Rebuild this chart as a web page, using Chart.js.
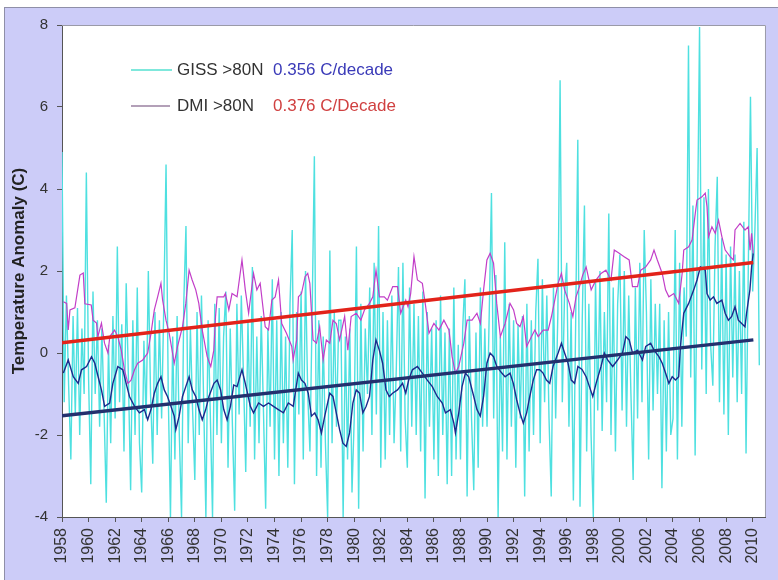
<!DOCTYPE html>
<html>
<head>
<meta charset="utf-8">
<script src="https://cdn.jsdelivr.net/npm/chart.js@4.4.0/dist/chart.umd.min.js"></script>
<style>
  html, body { margin: 0; padding: 0; background: #fff; }
  #wrap { width: 778px; height: 580px; }
</style>
</head>
<body>
<div id="wrap"><canvas id="chart" width="778" height="580"></canvas></div>
<script>
// tick labels
const xTickYears = [1958, 1960, 1962, 1964, 1966, 1968, 1970, 1972, 1974, 1976, 1978, 1980, 1982,
  1984, 1986, 1988, 1990, 1992, 1994, 1996, 1998, 2000, 2002, 2004, 2006, 2008, 2010];
const yTicks = [-4, -2, 0, 2, 4, 6, 8];

const gissStart = 1958;
const gissStep = 1 / 6;
const gissValues = [
  4.9, -1.2, 1.4, -0.8, -2.6, 0.9,      // 1958
  -1.5, 1.1, -2.0, 0.6, -1.0, 4.4,      // 1959
  -0.6, -3.2, 1.5, -1.0, 0.8, -1.8,     // 1960
  0.6, -1.4, -3.65, 0.2, -2.2, 0.9,     // 1961
  -1.6, 2.6, -1.2, 0.7, -2.4, 1.7,      // 1962
  -0.6, -3.35, 0.8, -2.0, 1.6, -2.2,    // 1963
  -3.4, 0.3, -1.6, 2.0, -1.0, -2.7,     // 1964
  1.0, -2.0, 0.8, -1.6, 1.2, 4.6,       // 1965
  -1.0, -4.0, 0.4, -2.6, 0.9, -2.0,     // 1966
  -4.0, 1.2, 3.1, -2.2, 0.6, -1.4,      // 1967
  -3.1, 1.0, -2.0, 1.4, -1.2, -4.0,     // 1968
  0.8, -1.5, -4.0, 1.2, -2.0, 1.1,      // 1969
  -2.2, 0.4, 1.5, -2.8, 0.6, -1.8,      // 1970
  -3.85, 1.2, -1.5, 1.4, -0.6, -2.9,    // 1971
  0.8, -1.8, 2.1, -2.6, 0.4, -2.2,      // 1972
  0.9, -1.4, -3.8, 0.6, -1.8, 1.8,      // 1973
  -2.6, 0.8, -3.0, 1.0, -2.2, 0.4,      // 1974
  -2.8, 1.2, 3.0, -3.2, 1.0, -1.5,      // 1975
  1.5, -2.6, 2.0, -1.0, -2.4, 1.0,      // 1976
  4.8, -3.0, 0.8, -2.8, 0.4, -2.2,      // 1977
  -4.0, 2.5, -2.2, 1.0, -1.8, 0.8,      // 1978
  0.8, -4.0, 0.4, -2.6, 0.6, -3.4,      // 1979
  -1.6, 2.6, -3.8, 1.2, -2.4, 0.6,      // 1980
  -1.0, 1.6, -2.0, 2.2, -1.5, 3.1,      // 1981
  -2.8, 1.0, -2.6, 0.8, -2.0, 1.4,      // 1982
  -2.2, -0.4, 2.1, -2.4, 2.2, -1.6,     // 1983
  -2.8, 1.6, -1.8, 1.2, -2.0, 0.9,      // 1984
  -2.4, 1.5, -3.55, 1.0, -1.8, 0.6,     // 1985
  -2.6, 0.8, -3.0, 1.4, -2.0, 0.5,      // 1986
  -3.2, 0.6, -3.0, 1.6, -2.6, 0.2,      // 1987
  -2.6, 0.6, 1.8, -3.5, 0.9, -1.6,      // 1988
  -3.35, 0.5, -2.8, 1.6, -1.8, 0.6,     // 1989
  -1.8, 1.0, 3.9, -1.6, 1.9, -4.0,      // 1990
  0.4, -2.4, 2.7, -2.6, 1.2, -1.8,      // 1991
  0.8, -2.8, 0.7, -1.6, 0.9, -3.5,      // 1992
  1.2, -2.4, 0.8, -2.0, 1.0, 2.3,       // 1993
  -2.2, 1.8, -1.2, 1.4, -1.6, -3.5,     // 1994
  1.6, -1.6, 1.0, 6.65, -1.2, 1.4,      // 1995
  2.2, -1.8, 1.0, -3.6, 0.6, 5.2,       // 1996
  -3.75, 0.8, 3.6, -2.4, 1.2, -2.0,     // 1997
  -4.0, 1.8, -1.4, 2.0, -1.9, 1.0,      // 1998
  -1.2, 3.4, -2.0, 1.6, -2.4, 1.2,      // 1999
  2.4, -1.4, 2.0, -1.8, 1.4, -1.0,      // 2000
  -3.1, 1.6, -1.6, 2.2, -1.2, 3.0,      // 2001
  1.0, -2.6, 1.8, -1.4, 1.2, -1.0,      // 2002
  1.2, -3.3, 0.8, -2.4, 1.0, -2.0,      // 2003
  -1.6, 3.0, -2.6, 2.2, -1.8, 1.6,      // 2004
  0.4, 7.5, -0.6, 3.6, -2.5, 2.8,       // 2005
  7.95, -0.4, 3.8, -1.0, 4.0, 0.2,      // 2006
  -0.8, 2.6, 4.3, -1.2, 2.8, -1.5,      // 2007
  2.4, -2.0, 2.6, -0.6, 2.4, -1.2,      // 2008
  2.0, -1.0, 3.2, -2.45, 2.0, 6.25,     // 2009
  1.5, 3.0, 5.0, -0.3                   // 2010
];

// GISS running mean (dark blue line)
const gissMeanYears = [1958.1, 1958.47, 1958.85, 1959.22, 1959.47, 1959.85, 1960.22, 1960.47, 1960.72, 1960.97,
  1961.21, 1961.59, 1961.83, 1962.2, 1962.58, 1962.83, 1963.08, 1963.46, 1963.83, 1964.2, 1964.45, 1964.7,
  1964.95, 1965.2, 1965.45, 1965.7, 1965.94, 1966.2, 1966.45, 1966.57, 1966.82, 1967.07, 1967.32, 1967.57,
  1967.81, 1968.07, 1968.31, 1968.56, 1968.82, 1969.06, 1969.44, 1969.68, 1969.94, 1970.18, 1970.43, 1970.68,
  1970.93, 1971.18, 1971.55, 1971.8, 1972.18, 1972.42, 1972.8, 1973.17, 1973.55, 1973.92, 1974.29, 1974.67,
  1975.04, 1975.41, 1975.79, 1976.03, 1976.29, 1976.54, 1976.78, 1977.03, 1977.28, 1977.53, 1977.78, 1978.16,
  1978.4, 1978.65, 1978.9, 1979.15, 1979.4, 1979.65, 1979.9, 1980.15, 1980.4, 1980.65, 1980.9, 1981.15,
  1981.4, 1981.64, 1981.89, 1982.14, 1982.39, 1982.64, 1982.89, 1983.26, 1983.64, 1983.88, 1984.1, 1984.38,
  1984.76, 1985.13, 1985.5, 1985.88, 1986.25, 1986.63, 1986.87, 1987.24, 1987.5, 1987.62, 1987.87, 1988.12,
  1988.37, 1988.62, 1989.0, 1989.24, 1989.49, 1989.74, 1989.99, 1990.23, 1990.49, 1990.73, 1991.11, 1991.36,
  1991.73, 1991.98, 1992.23, 1992.48, 1992.73, 1992.98, 1993.22, 1993.48, 1993.73, 1993.97, 1994.22, 1994.47,
  1994.72, 1994.97, 1995.35, 1995.6, 1995.84, 1996.1, 1996.34, 1996.59, 1996.84, 1997.15, 1997.46, 1997.71,
  1997.96, 1998.21, 1998.58, 1998.83, 1999.08, 1999.46, 1999.83, 2000.2, 2000.45, 2000.7, 2000.95, 2001.33,
  2001.7, 2001.95, 2002.32, 2002.57, 2002.94, 2003.19, 2003.44, 2003.69, 2003.94, 2004.19, 2004.43, 2004.56,
  2004.81, 2005.18, 2005.56, 2005.81, 2006.06, 2006.43, 2006.56, 2006.8, 2007.05, 2007.3, 2007.68, 2007.93,
  2008.17, 2008.42, 2008.67, 2008.92, 2009.17, 2009.42, 2009.54, 2009.79, 2009.92, 2010.04];
const gissMeanValues = [-0.49, -0.17, -0.58, -0.74, -0.41, -0.33, -0.09, -0.25, -0.58, -0.9,
  -1.3, -1.22, -0.74, -0.33, -0.41, -0.74, -1.06, -1.3, -1.46, -1.38, -1.63, -1.38,
  -0.98, -0.74, -0.58, -0.9, -1.06, -1.3, -1.54, -1.87, -1.54, -1.06, -0.82, -0.58,
  -0.9, -1.06, -1.38, -1.63, -1.38, -1.06, -0.74, -0.66, -0.9, -1.38, -1.63, -1.3,
  -0.78, -0.82, -0.41, -0.74, -1.3, -1.46, -1.22, -1.3, -1.22, -1.3, -1.38, -1.46,
  -1.22, -1.3, -0.49, -0.66, -0.74, -0.98, -1.54, -1.46, -1.63, -1.95, -1.54, -0.98,
  -1.06, -1.46, -1.87, -2.2, -2.28, -1.95, -1.22, -0.9, -0.98, -1.46, -1.3, -1.06,
  -0.17, 0.32, 0.07, -0.25, -0.9, -1.06, -0.98, -0.9, -0.74, -0.98, -0.66, -0.41,
  -0.33, -0.49, -0.66, -0.82, -1.06, -1.22, -1.46, -1.38, -1.71, -1.95, -1.46, -0.82,
  -0.49, -0.58, -1.06, -1.38, -1.54, -1.06, -0.25, 0.0, -0.09, -0.33, -0.49, -0.58,
  -0.49, -0.74, -1.14, -1.46, -1.71, -1.46, -1.06, -0.66, -0.41, -0.41, -0.49, -0.66,
  -0.74, -0.33, 0.0, 0.24, 0.0, -0.25, -0.66, -0.74, -0.33, -0.4, -0.58, -0.82,
  -1.06, -0.74, -0.33, 0.0, -0.17, -0.33, -0.17, 0.0, 0.4, 0.32, 0.0, 0.07,
  -0.17, 0.16, 0.24, 0.07, -0.09, -0.25, -0.49, -0.74, -0.58, -0.66, -0.58, 0.16,
  0.97, 1.21, 1.54, 1.78, 2.1, 2.02, 1.45, 1.29, 1.37, 1.21, 1.29, 0.97,
  0.8, 0.89, 1.13, 0.8, 0.72, 0.64, 0.97, 1.54, 2.1, 2.43];

// DMI >80N (magenta line)
const dmiYears = [1958.1, 1958.35, 1958.47, 1958.6, 1958.97, 1959.35, 1959.6, 1959.72, 1960.2, 1960.34,
  1960.6, 1960.7, 1960.97, 1961.2, 1961.46, 1961.6, 1961.96, 1962.2, 1962.46, 1962.7, 1962.96, 1963.2,
  1963.46, 1963.7, 1964.08, 1964.45, 1964.7, 1964.95, 1965.2, 1965.45, 1965.57, 1965.83, 1966.07, 1966.45,
  1966.7, 1967.07, 1967.32, 1967.57, 1967.8, 1968.07, 1968.3, 1968.56, 1968.93, 1969.2, 1969.43, 1969.56,
  1969.68, 1970.18, 1970.3, 1970.56, 1970.8, 1971.18, 1971.55, 1971.8, 1972.05, 1972.42, 1972.67, 1972.92,
  1973.3, 1973.55, 1973.8, 1974.05, 1974.3, 1974.54, 1974.9, 1975.3, 1975.4, 1975.67, 1975.8, 1976.03,
  1976.3, 1976.5, 1976.66, 1976.9, 1977.16, 1977.4, 1977.66, 1977.9, 1978.16, 1978.4, 1978.65, 1978.9,
  1979.28, 1979.52, 1979.77, 1980.15, 1980.5, 1980.77, 1981.15, 1981.4, 1981.64, 1981.9, 1982.26, 1982.5,
  1982.9, 1983.26, 1983.5, 1983.88, 1984.05, 1984.25, 1984.5, 1984.76, 1985.13, 1985.38, 1985.63, 1986.0,
  1986.38, 1986.75, 1987.13, 1987.37, 1987.62, 1987.87, 1988.25, 1988.5, 1988.87, 1989.24, 1989.5, 1989.74,
  1989.99, 1990.23, 1990.49, 1990.73, 1991.0, 1991.36, 1991.73, 1992.0, 1992.23, 1992.48, 1992.73, 1992.98,
  1993.35, 1993.6, 1993.85, 1994.22, 1994.6, 1994.85, 1995.1, 1995.35, 1995.6, 1995.84, 1996.2, 1996.46,
  1996.7, 1996.96, 1997.2, 1997.46, 1997.84, 1998.2, 1998.58, 1998.95, 1999.33, 1999.58, 1999.95, 2000.32,
  2000.7, 2000.95, 2001.33, 2001.57, 2001.95, 2002.32, 2002.57, 2002.82, 2003.19, 2003.44, 2003.69, 2004.06,
  2004.43, 2004.69, 2004.81, 2005.18, 2005.44, 2005.68, 2005.81, 2006.18, 2006.43, 2006.56, 2006.68, 2006.93,
  2007.18, 2007.43, 2007.68, 2007.93, 2008.3, 2008.55, 2008.67, 2009.05, 2009.42, 2009.67, 2009.8, 2009.92,
  2010.04];
const dmiValues = [1.25, 1.21, 0.56, 1.05, 1.1, 1.9, 1.95, 1.2, 1.17, 0.8,
  0.73, 0.4, 0.73, 0.24, 0.0, 0.4, 0.56, 0.4, 0.07, -0.41, -0.74, -0.66,
  -0.41, -0.25, -0.17, 0.0, 0.48, 1.05, 1.37, 1.7, 1.3, 0.8, 0.48, -0.25,
  0.16, 0.64, 1.21, 2.02, 1.78, 1.54, 1.21, 0.56, -0.09, -0.33, 0.07, 0.89,
  1.37, 1.37, 1.45, 1.05, 1.45, 1.37, 2.27, 1.54, 0.97, 1.94, 1.54, 1.7,
  0.64, 0.56, 1.29, 1.37, 1.78, 0.72, 0.48, 0.16, -0.17, 0.32, 1.37, 1.45,
  1.86, 1.94, 1.7, 0.32, 0.24, 0.64, -0.17, 0.32, 0.24, 0.8, 0.72, 0.32,
  0.89, 0.07, 0.89, 0.97, 0.8, 1.05, 1.21, 1.37, 2.02, 1.37, 1.37, 1.29,
  1.62, 1.62, 0.97, 1.29, 1.13, 1.45, 2.35, 1.78, 1.7, 1.13, 0.48, 0.72,
  0.56, 0.8, 0.56, -0.09, -0.49, -0.33, 0.24, 0.8, 0.8, 0.97, 0.72, 1.54,
  2.27, 2.43, 2.19, 1.21, 0.4, 0.72, 1.21, 1.05, 0.72, 0.64, 0.89, 0.16,
  0.4, 0.56, 0.4, 0.56, 0.56, 0.89, 1.29, 1.7, 1.94, 1.54, 1.21, 0.89,
  1.37, 1.62, 1.9, 2.1, 1.54, 1.78, 1.94, 2.02, 1.78, 2.51, 2.43, 2.35,
  2.27, 1.62, 1.62, 2.02, 2.1, 2.27, 2.51, 2.27, 1.94, 1.54, 1.37, 1.45,
  1.21, 1.94, 2.51, 2.59, 2.76, 3.41, 3.73, 3.81, 3.9, 3.57, 2.84, 3.08,
  2.92, 3.24, 2.84, 2.51, 2.35, 2.27, 3.0, 3.16, 3.0, 3.08, 2.51, 2.92,
  2.43];

// linear trends
const trendYears = [1958.0, 2010.05];
const gissTrend = [-1.53, 0.32];
const dmiTrend = [0.25, 2.21];

const pairs = (xs, ys) => ys.map((v, i) => ({ x: xs[i], y: v }));
const gissPoints = gissValues.map((v, i) => ({ x: gissStart + i * gissStep, y: v }));

const FONT = "'Liberation Sans', Arial, sans-serif";

const frame = {
  id: 'frame',
  beforeDraw(chart) {
    const { ctx, chartArea: a } = chart;
    ctx.save();
    ctx.fillStyle = '#ffffff';
    ctx.fillRect(0, 0, chart.width, chart.height);
    ctx.fillStyle = '#ccccf8';
    ctx.fillRect(4, 7, chart.width - 4, chart.height - 7);
    ctx.strokeStyle = '#8f8fa8';
    ctx.lineWidth = 1;
    ctx.strokeRect(4.5, 7.5, chart.width, chart.height);
    ctx.fillStyle = '#ffffff';
    ctx.fillRect(a.left, a.top, a.right - a.left, a.bottom - a.top);
    ctx.restore();
  },
  afterDraw(chart) {
    const { ctx, chartArea: a } = chart;
    ctx.save();
    ctx.strokeStyle = '#9a9aa8';
    ctx.lineWidth = 1;
    ctx.beginPath();
    ctx.moveTo(a.left, a.top + 0.5);
    ctx.lineTo(a.right - 0.5, a.top + 0.5);
    ctx.lineTo(a.right - 0.5, a.bottom);
    ctx.stroke();

    // legend
    ctx.font = '17px ' + FONT;
    ctx.textBaseline = 'middle';
    ctx.lineWidth = 1.5;
    ctx.strokeStyle = '#55e0d0';
    ctx.beginPath(); ctx.moveTo(131, 70); ctx.lineTo(172, 70); ctx.stroke();
    ctx.strokeStyle = '#9a80a0';
    ctx.beginPath(); ctx.moveTo(131, 106); ctx.lineTo(170, 106); ctx.stroke();
    ctx.fillStyle = '#333333';
    ctx.fillText('GISS >80N', 177, 70);
    ctx.fillText('DMI >80N', 177, 106);
    ctx.fillStyle = '#3a3ab8';
    ctx.fillText('0.356 C/decade', 273, 70);
    ctx.fillStyle = '#d04040';
    ctx.fillText('0.376 C/Decade', 273, 106);
    ctx.restore();
  }
};

new Chart(document.getElementById('chart'), {
  type: 'line',
  data: {
    datasets: [
      { label: 'GISS >80N', data: gissPoints, borderColor: 'rgb(78, 224, 224)', borderWidth: 1.4, order: 5 },
      { label: 'DMI >80N', data: pairs(dmiYears, dmiValues), borderColor: '#c23ec8', borderWidth: 1.2, order: 4 },
      { label: 'GISS mean', data: pairs(gissMeanYears, gissMeanValues), borderColor: '#1c2a8c', borderWidth: 1.4, order: 3 },
      { label: 'GISS trend', data: pairs(trendYears, gissTrend), borderColor: '#23306e', borderWidth: 3.5, order: 2 },
      { label: 'DMI trend', data: pairs(trendYears, dmiTrend), borderColor: '#e2231a', borderWidth: 3.5, order: 1 }
    ]
  },
  options: {
    responsive: false,
    animation: false,
    layout: { padding: { top: 25, right: 6, left: 0, bottom: 0 } },
    elements: { point: { radius: 0 }, line: { tension: 0 } },
    plugins: { legend: { display: false }, tooltip: { enabled: false } },
    scales: {
      x: {
        type: 'linear',
        min: 1958,
        max: 2011,
        afterBuildTicks: (s) => { s.ticks = xTickYears.map(v => ({ value: v })); },
        afterFit: (s) => { s.height = 63; },
        grid: { drawOnChartArea: false, drawTicks: true, tickLength: 5, tickColor: '#555', lineWidth: 1 },
        border: { display: true, color: '#555', width: 1 },
        ticks: {
          autoSkip: false,
          minRotation: 90,
          maxRotation: 90,
          padding: 6,
          color: '#333',
          font: { family: FONT, size: 16 },
          callback: (v) => String(v)
        }
      },
      y: {
        min: -4,
        max: 8,
        afterBuildTicks: (s) => { s.ticks = yTicks.map(v => ({ value: v })); },
        afterFit: (s) => { s.width = 62; },
        grid: { drawOnChartArea: false, drawTicks: true, tickLength: 5, tickColor: '#555', lineWidth: 1 },
        border: { display: true, color: '#555', width: 1 },
        ticks: {
          padding: 9,
          color: '#333',
          font: { family: FONT, size: 15 },
          callback: (v) => String(v)
        },
        title: {
          display: true,
          text: 'Temperature Anomaly (C)',
          color: '#222',
          font: { family: FONT, size: 17, weight: 'bold' },
          padding: { top: 9, bottom: 0 }
        }
      }
    }
  },
  plugins: [frame]
});
</script>
</body>
</html>
